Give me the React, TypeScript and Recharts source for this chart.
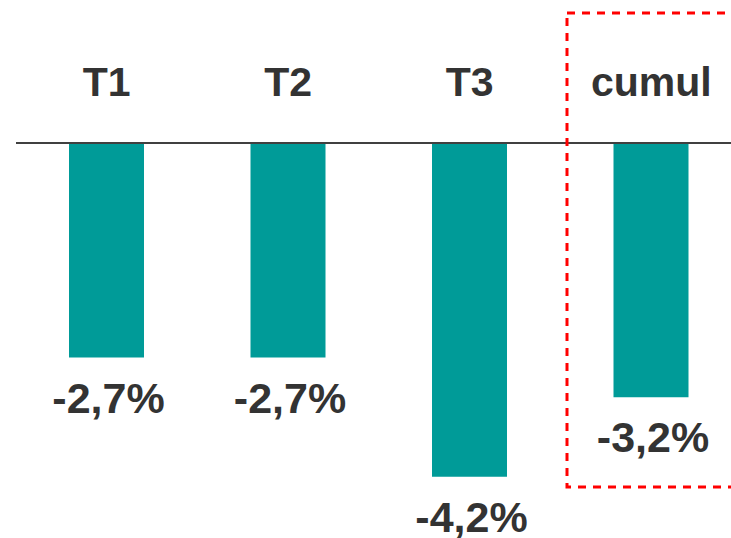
import { BarChart, Bar, XAxis, YAxis, LabelList } from "recharts";

const periods = ["T1", "T2", "T3", "cumul"];
const changes = [-2.7, -2.7, -4.2, -3.2];

const data = periods.map((p, i) => ({ period: p, change: changes[i] }));

const TEAL = "#009b98";
const INK = "#333333";
const FONT = "'Liberation Sans', Arial, sans-serif";

const fmt = (v: number) => `${v.toFixed(1).replace(".", ",")}%`;

// label sits under the end of the (negative) bar
function ValueLabel(props: any) {
  const { x, y, width, height, value } = props;
  const bottom = Math.max(Number(y), Number(y) + Number(height));
  return (
    <text
      x={Number(x) + Number(width) / 2 + 2}
      y={bottom + 55}
      textAnchor="middle"
      fill={INK}
      fontFamily={FONT}
      fontWeight={700}
      fontSize={43}
    >
      {fmt(Number(value))}
    </text>
  );
}

export default function App() {
  return (
    <div
      style={{
        position: "absolute",
        left: 0,
        top: 0,
        width: 731,
        height: 538,
        overflow: "hidden",
        background: "#fff",
      }}
    >
      <BarChart
        width={742}
        height={538}
        data={data}
        margin={{ top: 83, right: 0, bottom: 0, left: 16 }}
        barSize={75}
      >
        <XAxis
          dataKey="period"
          orientation="top"
          height={60}
          tickLine={false}
          tickSize={0}
          tickMargin={47}
          axisLine={{ stroke: "#404040", strokeWidth: 2 }}
          tick={{ fill: INK, fontFamily: FONT, fontWeight: 700, fontSize: 41 }}
          interval={0}
        />
        <YAxis hide domain={[-4.97, 0]} />
        <Bar dataKey="change" fill={TEAL} isAnimationActive={false}>
          <LabelList dataKey="change" content={ValueLabel} />
        </Bar>
      </BarChart>
      <svg
        width={731}
        height={538}
        style={{ position: "absolute", left: 0, top: 0, pointerEvents: "none" }}
      >
        <rect
          x={567}
          y={13}
          width={200}
          height={474}
          fill="none"
          stroke="#ff0000"
          strokeWidth={3}
          strokeDasharray="8 7"
        />
      </svg>
    </div>
  );
}
